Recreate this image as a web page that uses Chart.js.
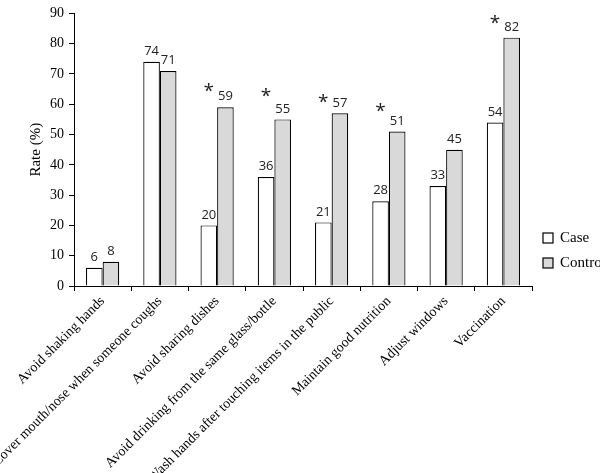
<!DOCTYPE html>
<html>
<head>
<meta charset="utf-8">
<script src="https://cdn.jsdelivr.net/npm/chart.js@4.4.1/dist/chart.umd.min.js"></script>
<style>
  html, body { margin: 0; padding: 0; background: #fff; }
  #wrap { width: 600px; height: 473px; }
</style>
</head>
<body>
<div id="wrap"><canvas id="chart"></canvas></div>
<script>
// categories and values
const categories = [
    "Avoid shaking hands",
    "Cover mouth/nose when someone coughs",
    "Avoid sharing dishes",
    "Avoid drinking from the same glass/bottle",
    "Wash hands after touching items in the public",
    "Maintain good nutrition",
    "Adjust windows",
    "Vaccination"
];
const caseRate = [6, 74, 20, 36, 21, 28, 33, 54];
const controlRate = [8, 71, 59, 55, 57, 51, 45, 82];
// level (in %) where the significance star sits, null = no star
const starLevel = [null, null, 65.5, 64, 62, 59, null, 88];
const yMin = 0, yMax = 90, yStep = 10;

const SERIF = "'Liberation Serif', 'Times New Roman', serif";
const SANS = "'Open Sans', 'Liberation Sans', sans-serif";

const barLabels = {
    id: "barLabels",
    afterDatasetsDraw(chart) {
        const ctx = chart.ctx;
        ctx.save();
        ctx.fillStyle = "#222";
        ctx.textAlign = "center";
        ctx.textBaseline = "bottom";
        ctx.font = "13px " + SANS;
        chart.data.datasets.forEach(function(ds, i) {
            chart.getDatasetMeta(i).data.forEach(function(bar, j) {
                ctx.fillText(String(ds.data[j]), bar.x, bar.y - 4);
            });
        });
        // significance stars above the case bar
        const yScale = chart.scales.y;
        const caseBars = chart.getDatasetMeta(0).data;
        ctx.font = "19px " + SANS;
        ctx.textBaseline = "middle";
        starLevel.forEach(function(lv, j) {
            if (lv === null) return;
            ctx.fillText("*", caseBars[j].x, yScale.getPixelForValue(lv) + 4);
        });
        ctx.restore();
    }
};

// small legend to the right of the plot, near its bottom
const sideLegend = {
    id: "sideLegend",
    afterDraw(chart) {
        const ctx = chart.ctx;
        const area = chart.chartArea;
        ctx.save();
        ctx.font = "15px " + SERIF;
        ctx.textBaseline = "middle";
        ctx.textAlign = "left";
        chart.data.datasets.forEach(function(ds, i) {
            const y = area.bottom - 48 + i * 25;
            const x = area.right + 11;
            ctx.fillStyle = ds.backgroundColor;
            ctx.fillRect(x, y - 5, 10, 10);
            ctx.strokeStyle = "#000";
            ctx.lineWidth = 1.2;
            ctx.strokeRect(x, y - 5, 10, 10);
            ctx.fillStyle = "#000";
            ctx.fillText(ds.label, x + 17, y);
        });
        ctx.restore();
    }
};

new Chart(document.getElementById("chart"), {
    type: "bar",
    data: {
        labels: categories,
        datasets: [
            { label: "Case", data: caseRate, backgroundColor: "#ffffff", borderColor: "#000", borderWidth: 1.2 },
            { label: "Control", data: controlRate, backgroundColor: "#d9d9d9", borderColor: "#000", borderWidth: 1.2 }
        ]
    },
    options: {
        responsive: true,
        maintainAspectRatio: false,
        animation: false,
        layout: { padding: { top: 0, left: 27, right: 68, bottom: 0 } },
        datasets: { bar: { categoryPercentage: 0.58, barPercentage: 1.0 } },
        plugins: {
            legend: { display: false },
            tooltip: { enabled: false }
        },
        scales: {
            x: {
                grid: { display: true, offset: true, drawOnChartArea: false, drawTicks: true, tickLength: 5, color: "#000" },
                border: { color: "#000", width: 1 },
                ticks: {
                    color: "#000",
                    font: { family: SERIF, size: 14 },
                    minRotation: 45,
                    maxRotation: 45,
                    autoSkip: false,
                    padding: 2
                },
                afterFit(scale) { scale.height = 187; }
            },
            y: {
                min: yMin,
                max: yMax,
                grid: { display: true, drawOnChartArea: false, drawTicks: true, tickLength: 5, color: "#000" },
                border: { color: "#000", width: 1 },
                ticks: {
                    stepSize: yStep,
                    color: "#000",
                    font: { family: SERIF, size: 14 },
                    padding: 5
                },
                title: {
                    display: true,
                    text: "Rate (%)",
                    color: "#000",
                    font: { family: SERIF, size: 15 },
                    padding: { top: 0, bottom: 0 }
                }
            }
        }
    },
    plugins: [barLabels, sideLegend]
});
</script>
</body>
</html>
